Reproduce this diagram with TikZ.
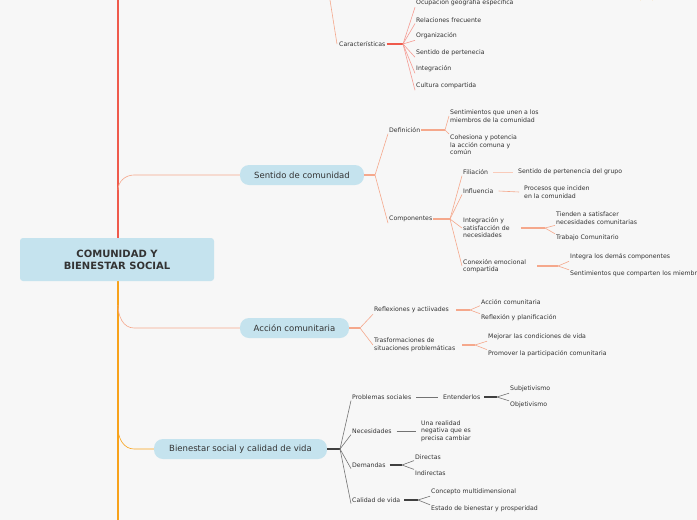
\documentclass[tikz,border=0pt]{standalone}
\usepackage{fontspec}
\setmainfont{DejaVu Sans}
\definecolor{pill}{HTML}{C5E3EE}
\definecolor{salmon}{HTML}{F5A88C}
\definecolor{redline}{HTML}{EF5A4C}
\definecolor{orangeline}{HTML}{F7A21B}
\definecolor{txt}{HTML}{333333}
\tikzstyle{leaf} = [anchor=west, inner sep=1pt, align=left, font=\fontsize{6.2}{7.5}\selectfont, text=txt]
\tikzstyle{main} = [rectangle, rounded corners=9pt, fill=pill, text=txt, font=\fontsize{8.5}{9}\selectfont, minimum height=20pt, inner xsep=6pt]
\tikzstyle{link} = [salmon, line width=0.6pt]
\tikzstyle{fork} = [salmon, line width=1.3pt]

\begin{document}
\begin{tikzpicture}[x=1pt,y=-1pt]
  \fill[black!3] (0,0) rectangle (697,520);
  \useasboundingbox (0,0) rectangle (697,520);

  % spine
  \draw[redline, line width=2.5pt] (118,0) -- (118,240);
  \draw[orangeline, line width=2.5pt] (118,240) -- (118,520);
  \draw[orangeline, dashed, line width=1pt] (640,0) arc[start angle=200, end angle=260, x radius=60, y radius=28];
  \draw[orangeline, dashed, line width=1pt] (652,0) arc[start angle=190, end angle=250, x radius=45, y radius=16];

  \node (root) [rectangle, rounded corners=3pt, fill=pill, minimum width=194pt, minimum height=43pt, align=center, text=txt, font=\fontsize{10}{12}\selectfont\bfseries] at (117,259.5) {COMUNIDAD Y\\BIENESTAR SOCIAL};

  % Caracteristicas
  \node (carac) [leaf] at (338,44) {Características};
  \coordinate (fcarac) at (403,44);
  \draw[link] (330,0) -- (337,44);
  \draw[fork, redline] (carac.east) -- (fcarac);
  \foreach \t/\y in {Ocupación geografía específica/3, Relaciones frecuente/20, Organización/36, Sentido de pertenecia/53, Integración/69, Cultura compartida/86}{
    \node (c\y) [leaf] at (415,\y) {\t};
    \draw[link, redline!60] (fcarac) -- (c\y.south west);
  }

  % Sentido de comunidad
  \node (sentido) [main, minimum width=124pt] at (302,175) {Sentido de comunidad};
  \draw[link] (118,190) to[out=90, in=180] (134,175) -- (sentido.west);
  \coordinate (fsent) at (375,175);
  \draw[fork] (sentido.east) -- (fsent);
  \node (defin) [leaf] at (388,130) {Definición};
  \node (compo) [leaf] at (388,219) {Componentes};
  \draw[link] (fsent) -- (defin.south west);
  \draw[link] (fsent) -- (compo.south west);

  \coordinate (fdef) at (445,130);
  \draw[fork] (defin.east) -- (fdef);
  \node (d1) [leaf] at (449,116) {Sentimientos que unen a los\\miembros de la comunidad};
  \node (d2) [leaf] at (449,145) {Cohesiona y potencia\\la acción comuna y\\común};
  \draw[link] (fdef) -- (d1.west);
  \draw[link] (fdef) -- (d2.north west);

  \coordinate (fcomp) at (450,219);
  \draw[fork] (compo.east) -- (fcomp);
  \node (filia) [leaf] at (462,172) {Filiación};
  \node (influ) [leaf] at (462,191) {Influencia};
  \node (integ) [leaf] at (462,228) {Integración y\\satisfacción de\\necesidades};
  \node (conex) [leaf] at (462,266) {Conexión emocional\\compartida};
  \draw[link] (fcomp) -- (filia.south west);
  \draw[link] (fcomp) -- (influ.south west);
  \draw[link] (fcomp) -- (integ.west);
  \draw[link] (fcomp) -- (conex.west);

  \node (filia1) [leaf] at (517,172) {Sentido de pertenencia del grupo};
  \draw[link, salmon!60] (filia.east) ++(4,0) -- ([xshift=-4pt]filia1.west);
  \node (influ1) [leaf] at (523,192) {Procesos que inciden\\en la comunidad};
  \draw[link] (influ.east) ++(4,0) -- ([xshift=-4pt]influ1.west);

  \coordinate (finteg) at (545,228);
  \draw[fork] (integ.east) ++(10,0) -- (finteg);
  \node (i1) [leaf] at (555,218) {Tienden a satisfacer\\necesidades comunitarias};
  \node (i2) [leaf] at (555,238) {Trabajo Comunitario};
  \draw[link] (finteg) -- (i1.south west);
  \draw[link] (finteg) -- (i2.north west);

  \coordinate (fconex) at (558,266);
  \draw[fork] (conex.east) ++(10,0) -- (fconex);
  \node (k1) [leaf] at (569,257) {Integra los demás componentes};
  \node (k2) [leaf] at (569,274) {Sentimientos que comparten los miembros};
  \draw[link] (fconex) -- (k1.south west);
  \draw[link] (fconex) -- (k2.north west);

  % Accion comunitaria
  \node (accion) [main, minimum width=109pt] at (294.5,328) {Acción comunitaria};
  \draw[link] (118,305) to[out=-90, in=180] (134,328) -- (accion.west);
  \coordinate (facc) at (360,328);
  \draw[fork] (accion.east) -- (facc);
  \node (refle) [leaf] at (373,310) {Reflexiones y actiivades};
  \node (trans) [leaf] at (373,345) {Trasformaciones de\\situaciones problemáticas};
  \draw[link] (facc) -- (refle.south west);
  \draw[link] (facc) -- (trans.west);

  \coordinate (fref) at (470,310);
  \draw[fork] (refle.east) ++(6,0) -- (fref);
  \node (r1) [leaf] at (480,302) {Acción comunitaria};
  \node (r2) [leaf] at (480,318) {Reflexión y planificación};
  \draw[link] (fref) -- (r1.south west);
  \draw[link] (fref) -- (r2.north west);

  \coordinate (ftra) at (475,345);
  \draw[fork] (trans.east) ++(6,0) -- (ftra);
  \node (t1) [leaf] at (487,337) {Mejorar las condiciones de vida};
  \node (t2) [leaf] at (487,354) {Promover la participación comunitaria};
  \draw[link] (ftra) -- (t1.south west);
  \draw[link] (ftra) -- (t2.north west);

  % Bienestar social
  \node (bien) [main, minimum width=173pt] at (240.5,449) {Bienestar social y calidad de vida};
  \draw[link, orangeline] (118,428) to[out=-90, in=180] (134,449) -- (bien.west);
  \tikzset{link/.append style={black!55}, fork/.append style={black!75}}
  \coordinate (fbien) at (340,449);
  \draw[fork] (bien.east) -- (fbien);
  \node (probl) [leaf] at (351,397) {Problemas sociales};
  \node (neces) [leaf] at (351,431) {Necesidades};
  \node (deman) [leaf] at (351,465) {Demandas};
  \node (calid) [leaf] at (351,500) {Calidad de vida};
  \foreach \n in {probl, neces, deman, calid}
    \draw[link] (fbien) -- (\n.south west);

  \node (enten) [leaf] at (442,397) {Entenderlos};
  \draw[link] (probl.east) ++(4,0) -- ([xshift=-4pt]enten.west);
  \coordinate (fent) at (497,397);
  \draw[fork] (enten.east) ++(3,0) -- (fent);
  \node (e1) [leaf] at (509,389) {Subjetivismo};
  \node (e2) [leaf] at (509,405) {Objetivismo};
  \draw[link] (fent) -- (e1.south west);
  \draw[link] (fent) -- (e2.north west);

  \node (n1) [leaf] at (420,431) {Una realidad\\negativa que es\\precisa cambiar};
  \draw[link] (neces.east) ++(4,0) -- ([xshift=-4pt]n1.west);

  \coordinate (fdem) at (402,465);
  \draw[fork] (deman.east) ++(3,0) -- (fdem);
  \node (m1) [leaf] at (414,457) {Directas};
  \node (m2) [leaf] at (414,473) {Indirectas};
  \draw[link] (fdem) -- (m1.south west);
  \draw[link] (fdem) -- (m2.north west);

  \coordinate (fcal) at (418,500);
  \draw[fork] (calid.east) ++(3,0) -- (fcal);
  \node (q1) [leaf] at (430,492) {Concepto multidimensional};
  \node (q2) [leaf] at (430,509) {Estado de bienestar y prosperidad};
  \draw[link] (fcal) -- (q1.south west);
  \draw[link] (fcal) -- (q2.north west);
\end{tikzpicture}
\end{document}
